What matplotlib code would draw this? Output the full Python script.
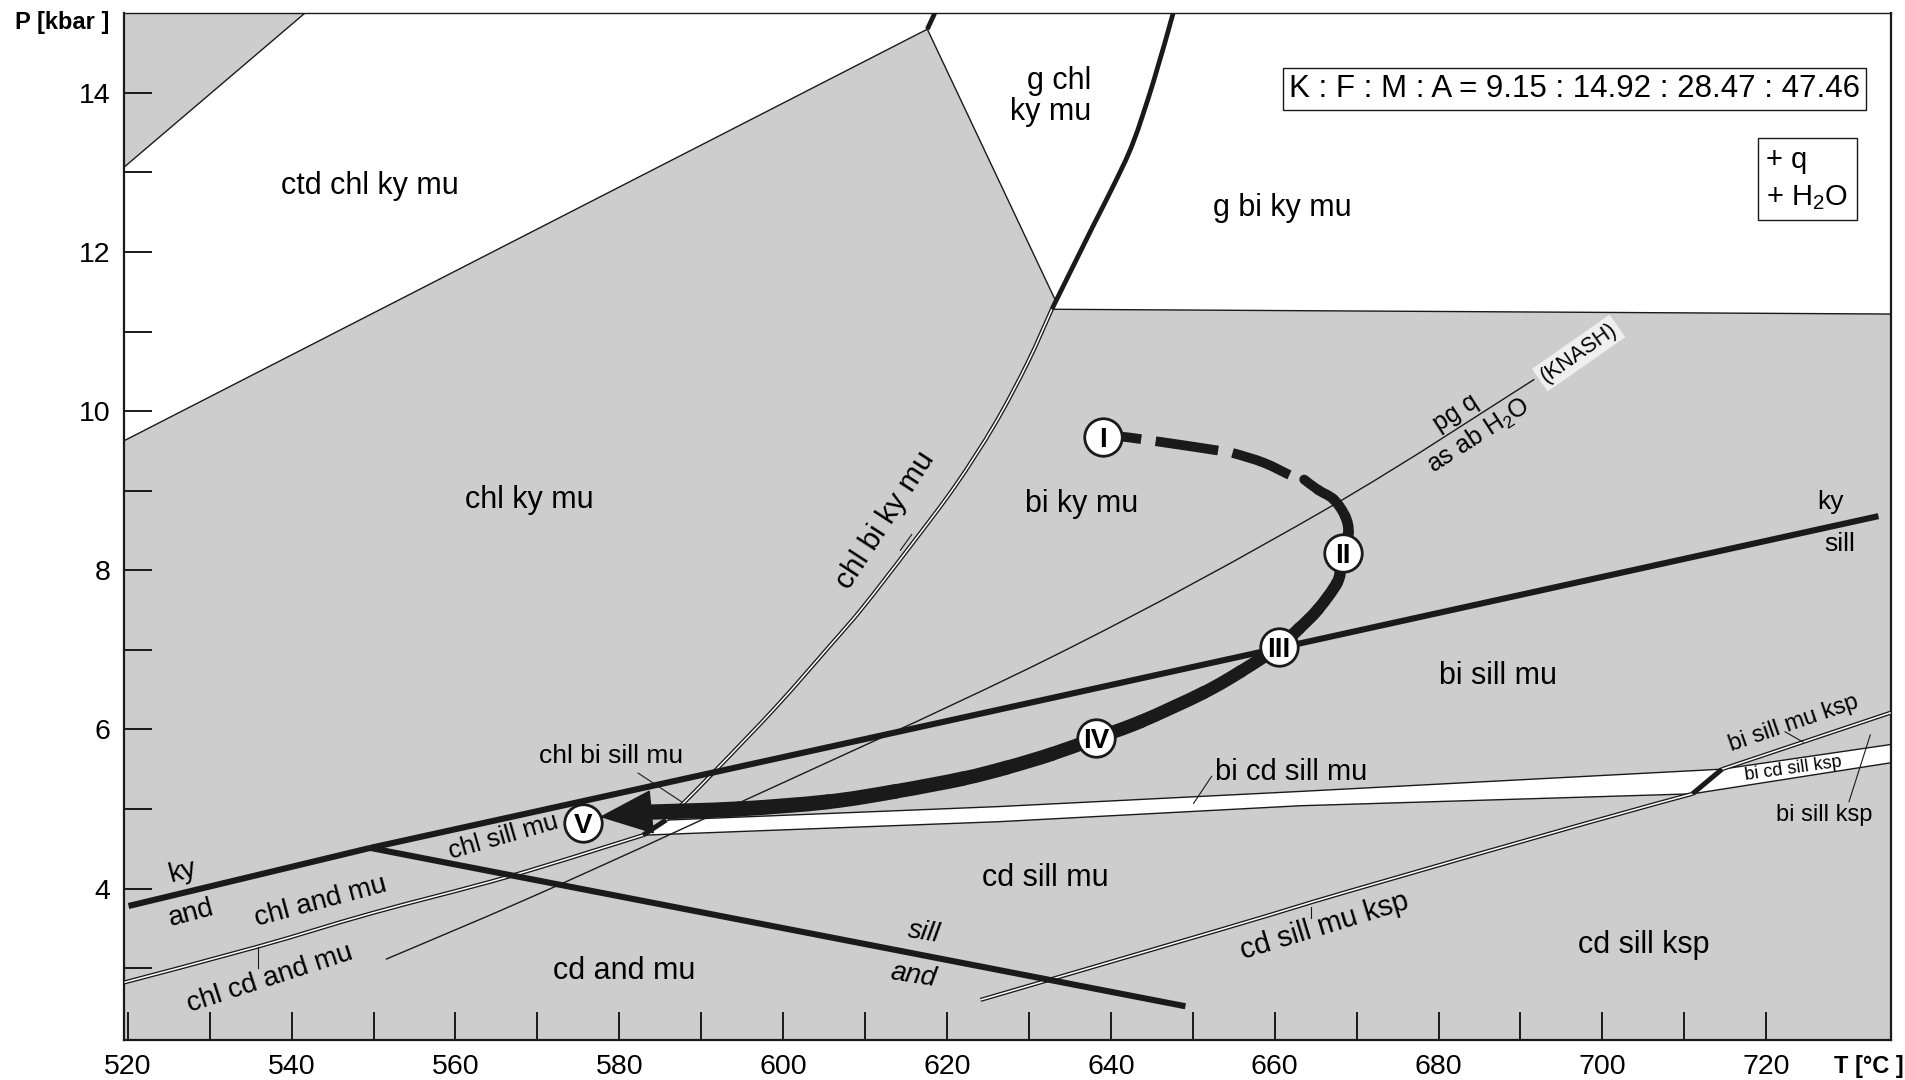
import matplotlib
matplotlib.use('Agg')
import matplotlib.pyplot as plt
import numpy as np
from matplotlib import font_manager
from matplotlib.path import Path
from matplotlib.patches import PathPatch

names = {f.name for f in font_manager.fontManager.ttflist}
SANS = 'Liberation Sans' if 'Liberation Sans' in names else 'DejaVu Sans'
NARROW = 'Liberation Sans Narrow' if 'Liberation Sans Narrow' in names else SANS

plt.rcParams['font.family'] = SANS
plt.rcParams['mathtext.fontset'] = 'custom'
plt.rcParams['mathtext.rm'] = SANS
plt.rcParams['mathtext.it'] = SANS + ':italic'
plt.rcParams['mathtext.bf'] = SANS + ':bold'

# --- Diagram extent (T in °C, P in kbar) ---
T_MIN, T_MAX = 519.6, 735.2
P_MIN, P_MAX = 2.09, 15.0

# --- Field boundaries ---
ctd_T = [519.6, 541.6]               # ctd-out, upper left corner
ctd_P = [13.07, 15.0]
chlky_T = [519.6, 617.6]             # top of chl ky mu field
chlky_P = [9.63, 14.80]
gtop_T = [617.6, 618.5]              # g-in above invariant point
gtop_P = [14.80, 15.0]
gchl_T = [617.6, 633.2]              # chl ky mu / g chl ky mu
gchl_P = [14.80, 11.40]
gin_T = [647.6, 645.2, 642.7, 640.3, 637.8, 632.8]
gin_P = [15.0, 14.14, 13.37, 12.83, 12.32, 11.28]
gbi_T = [632.8, 735.2]               # base of g bi ky mu
gbi_P = [11.28, 11.22]

# chl-out (upper branch, chl bi ky mu)
chl_T = [632.8, 629.8, 625.8, 621.0, 615.5, 609.7, 605.7, 599.2, 591.8, 587.8, 585.7]
chl_P = [11.28, 10.6, 9.83, 9.06, 8.30, 7.53, 7.05, 6.29, 5.49, 5.07, 4.86]
# chl-out (lower branch, chl cd and mu)
chlcd_T = [582.9, 566.5, 549.8, 535.9, 519.6]
chlcd_P = [4.67, 4.15, 3.69, 3.27, 2.82]

# bi cd sill mu field
bcsm_up_T = [585.7, 626.4, 663.1, 714.6]
bcsm_up_P = [4.86, 5.03, 5.22, 5.50]
bcsm_lo_T = [582.9, 626.4, 663.1, 711.0]
bcsm_lo_P = [4.67, 4.84, 5.04, 5.19]

# mu-out
muout_T = [624.1, 654.6, 669.2, 697.3, 711.0]
muout_P = [2.60, 3.52, 3.97, 4.80, 5.19]
muksp_T = [714.6, 735.2]
muksp_P = [5.50, 6.21]

# bi cd sill ksp field
bcsk_up_T = [714.6, 735.2]
bcsk_up_P = [5.50, 5.81]
bcsk_lo_T = [711.0, 735.2]
bcsk_lo_P = [5.19, 5.58]

# Al2SiO5 triple point lines
kyand_T = [520.1, 549.6]
kyand_P = [3.78, 4.51]
kysill_T = [549.6, 733.7]
kysill_P = [4.51, 8.68]
andsill_T = [549.6, 649.1]
andsill_P = [4.51, 2.52]

# paragonite breakdown (KNASH)
knash_T = [551.5, 569.0, 589.8, 632.6, 666.5, 691.7]
knash_P = [3.11, 3.88, 4.85, 6.90, 8.78, 10.40]

# --- P-T path ---
path_T = [639.1, 641.2, 645.6, 653.4, 655.0, 658.7, 662.2, 663.6, 665.3, 667.2, 668.6,
          669.0, 668.3, 668.1, 667.6, 665.3, 663.0, 660.5, 655.9, 651.3, 643.7, 638.2,
          632.8, 627.3, 621.9, 613.7, 605.5, 594.6, 583.7]
path_P = [9.68, 9.68, 9.62, 9.50, 9.47, 9.35, 9.18, 9.14, 9.01, 8.89, 8.68,
          8.47, 8.22, 8.05, 7.84, 7.51, 7.27, 7.04, 6.73, 6.46, 6.10, 5.89,
          5.69, 5.52, 5.38, 5.22, 5.09, 5.00, 4.96]
n_dashed = 8                        # prograde part drawn dashed
arrow_tip = (577.6, 4.90)
stage_T = [639.1, 668.3, 660.5, 638.2, 575.6]
stage_P = [9.68, 8.22, 7.04, 5.89, 4.82]
stage_lbl = ['I', 'II', 'III', 'IV', 'V']

GRAY = '#cdcdcd'
INK = '#1a1a1a'


def bezier_pieces(T, P):
    """Cubic Bezier pieces running through the given points (Catmull-Rom tangents)."""
    pts = np.column_stack([T, P]).astype(float)
    n = len(pts)
    pieces = []
    for i in range(n - 1):
        p0 = pts[i - 1] if i > 0 else pts[i]
        p1, p2 = pts[i], pts[i + 1]
        p3 = pts[i + 2] if i + 2 < n else pts[i + 1]
        pieces.append([p1, p1 + (p2 - p0) / 6, p2 - (p3 - p1) / 6, p2])
    return pieces


def smooth_path(T, P):
    pieces = bezier_pieces(T, P)
    verts = [pieces[0][0]]
    codes = [Path.MOVETO]
    for pc in pieces:
        verts += pc[1:]
        codes += [Path.CURVE4] * 3
    return Path(verts, codes)


def curve(T, P, **kw):
    ax.add_patch(PathPatch(smooth_path(T, P), fc='none', **kw))


fig = plt.figure(figsize=(19.06, 10.8), dpi=100)
ax = fig.add_axes([0.0653, 0.0366, 0.992 - 0.0653, 0.9877 - 0.0366])
ax.set_xlim(T_MIN, T_MAX)
ax.set_ylim(P_MIN, P_MAX)
ax.set_facecolor(GRAY)

# white fields at high pressure
white_T = ctd_T + [T_MAX, T_MAX] + gbi_T[::-1] + gchl_T[::-1] + chlky_T[::-1]
white_P = ctd_P + [P_MAX, gbi_P[1]] + gbi_P[::-1] + gchl_P[::-1] + chlky_P[::-1]
ax.fill(white_T, white_P, color='white', lw=0, zorder=1)

# white narrow fields
ax.fill(bcsm_up_T + bcsm_lo_T[::-1], bcsm_up_P + bcsm_lo_P[::-1], color='white', lw=0, zorder=1)
ax.fill(bcsk_up_T + bcsk_lo_T[::-1], bcsk_up_P + bcsk_lo_P[::-1], color='white', lw=0, zorder=1)

thin = dict(color=INK, lw=1.0, zorder=2)
for T, P in [(ctd_T, ctd_P), (chlky_T, chlky_P), (gchl_T, gchl_P), (gbi_T, gbi_P),
             (bcsm_up_T, bcsm_up_P), (bcsm_lo_T, bcsm_lo_P),
             (bcsk_up_T, bcsk_up_P), (bcsk_lo_T, bcsk_lo_P)]:
    ax.plot(T, P, **thin)
curve(knash_T, knash_P, ec=INK, lw=1.0, zorder=2)


def double_line(T, P):
    curve(T, P, ec=INK, lw=3.0, capstyle='butt', zorder=3)
    curve(T, P, ec='white', lw=1.1, capstyle='butt', zorder=3.1)


double_line(chl_T, chl_P)
double_line(chlcd_T, chlcd_P)
double_line(muout_T, muout_P)
double_line(muksp_T, muksp_P)

# thick reaction lines
thick = dict(color=INK, solid_capstyle='butt', zorder=4)
curve(gin_T, gin_P, ec=INK, lw=3.4, capstyle='butt', zorder=4)
ax.plot(gtop_T, gtop_P, lw=3.4, **thick)
ax.plot([bcsm_up_T[0], bcsm_lo_T[0]], [bcsm_up_P[0], bcsm_lo_P[0]], lw=3.6, **thick)
ax.plot([bcsm_up_T[-1], bcsm_lo_T[-1]], [bcsm_up_P[-1], bcsm_lo_P[-1]], lw=3.6, **thick)
for T, P in [(kyand_T, kyand_P), (kysill_T, kysill_P), (andsill_T, andsill_P)]:
    ax.plot(T, P, lw=4.4, **thick)

# P-T path: dashed prograde start, then a solid line thickening toward V
curve(path_T[:n_dashed], path_P[:n_dashed], ec=INK, lw=7, capstyle='butt',
      linestyle=(0, (3.9, 1.5, 6.5, 1.5, 6.3, 3.0)), zorder=6)
pieces = bezier_pieces(path_T[n_dashed - 1:], path_P[n_dashed - 1:])
for w, pc in zip(np.linspace(7.0, 11.0, len(pieces)), pieces):
    ax.add_patch(PathPatch(Path(pc, [Path.MOVETO] + [Path.CURVE4] * 3), fc='none',
                           ec=INK, lw=w, capstyle='round', zorder=6))
ax.annotate('', xy=arrow_tip, xytext=(path_T[-1], path_P[-1]),
            arrowprops=dict(arrowstyle='-|>,head_length=1.8,head_width=0.75',
                            mutation_scale=20, lw=1, color=INK,
                            shrinkA=0, shrinkB=0), zorder=7)

ax.plot(stage_T, stage_P, 'o', ms=27, mfc='white', mec=INK, mew=2.0, zorder=8)
for t, p, s in zip(stage_T, stage_P, stage_lbl):
    ax.text(t, p, s, family=NARROW, weight='bold', fontsize=20,
            ha='center', va='center_baseline', zorder=9)


# --- field labels ---
def lab(t, p, s, size=21, rot=0, **kw):
    ax.text(t, p, s, fontsize=size, rotation=rot, ha=kw.pop('ha', 'center'),
            va='center', rotation_mode='anchor', zorder=5, **kw)


lab(549.5, 12.83, 'ctd chl ky mu', size=22)
lab(569.0, 8.88, 'chl ky mu', size=22)
lab(637.6, 13.95, 'g chl\nky mu', size=22, ha='right', linespacing=1.05)
lab(660.9, 12.55, 'g bi ky mu', size=22)
lab(636.4, 8.83, 'bi ky mu', size=22)
lab(687.3, 6.67, 'bi sill mu', size=22)
lab(612.5, 8.63, 'chl bi ky mu', size=21.5, rot=57)
lab(579.0, 5.67, 'chl bi sill mu', size=19)
lab(565.9, 4.65, 'chl sill mu', size=18.5, rot=16)
lab(526.7, 4.21, 'ky', size=20, rot=15)
lab(527.8, 3.69, 'and', size=20, rot=15)
lab(543.6, 3.84, 'chl and mu', size=20, rot=15)
lab(537.3, 2.87, 'chl cd and mu', size=20, rot=18)
lab(580.6, 2.96, 'cd and mu', size=22)
lab(632.0, 4.13, 'cd sill mu', size=22)
lab(617.2, 3.44, 'sill', size=20, rot=-9, style='italic')
lab(615.9, 2.91, 'and', size=20, rot=-9, style='italic')
lab(662.0, 5.47, 'bi cd sill mu', size=21)
lab(666.1, 3.53, 'cd sill mu ksp', size=21, rot=17)
lab(705.1, 3.29, 'cd sill ksp', size=22)
lab(723.3, 6.08, 'bi sill mu ksp', size=17, rot=19)
lab(723.3, 5.51, 'bi cd sill ksp', size=13, rot=8)
lab(727.1, 4.93, 'bi sill ksp', size=17)
lab(727.8, 8.86, 'ky', size=19)
lab(729.0, 8.33, 'sill', size=19)
lab(682.1, 9.98, 'pg q', size=18, rot=33)
lab(684.9, 9.69, 'as ab H$_2$O', size=18, rot=33)
lab(697.1, 10.73, '(KNASH)', size=15.5, rot=35,
    bbox=dict(boxstyle='square,pad=0.15', fc='#efefef', ec='none'))

# pointers from labels to their fields
ptr = dict(color=INK, lw=0.8, zorder=5)
ax.plot([582.3, 587.6], [5.45, 5.09], **ptr)
ax.plot([652.3, 650.1], [5.41, 5.07], **ptr)
ax.plot([664.4, 664.4], [3.77, 3.63], **ptr)
ax.plot([535.9, 535.9], [3.27, 3.00], **ptr)
ax.plot([722.3, 724.5], [5.97, 5.84], **ptr)
ax.plot([730.1, 732.7], [5.09, 5.93], **ptr)
ax.plot([614.3, 615.7], [8.25, 8.45], **ptr)

# bulk composition and excess phases
ax.text(696.6, 14.05, 'K : F : M : A = 9.15 : 14.92 : 28.47 : 47.46', fontsize=22.5,
        ha='center', va='center', zorder=5,
        bbox=dict(boxstyle='square,pad=0.2', fc='white', ec=INK, lw=1.0))
ax.text(725.0, 12.92, '+ q\n+ H$_2$O', fontsize=21, ha='center', va='center',
        multialignment='left', linespacing=1.4, zorder=5,
        bbox=dict(boxstyle='square,pad=0.3', fc='white', ec=INK, lw=1.0))

# --- axes ---
ax.set_xticks(np.arange(520, 721, 20))
ax.set_xticks(np.arange(530, 711, 20), minor=True)
ax.set_yticks(np.arange(4, 15, 2))
ax.set_yticks(np.arange(3, 14, 2), minor=True)
ax.tick_params(which='both', direction='in', length=20, width=1.4, color=INK,
               labelsize=20.5, pad=10)
for lbl in ax.get_xticklabels() + ax.get_yticklabels():
    lbl.set_family(NARROW)
for side in ['left', 'right', 'bottom']:
    ax.spines[side].set_linewidth(1.6)
ax.spines['top'].set_linewidth(1.0)
for sp in ax.spines.values():
    sp.set_color(INK)

fig.text(62 / 1906, 1 - 23 / 1080, 'P [kbar ]', fontsize=17, weight='bold',
         ha='center', va='center')
fig.text(1904 / 1906, 1 - 1067 / 1080, 'T [°C ]', fontsize=17, weight='bold',
         ha='right', va='center')

fig.savefig('out.png', dpi=100)
